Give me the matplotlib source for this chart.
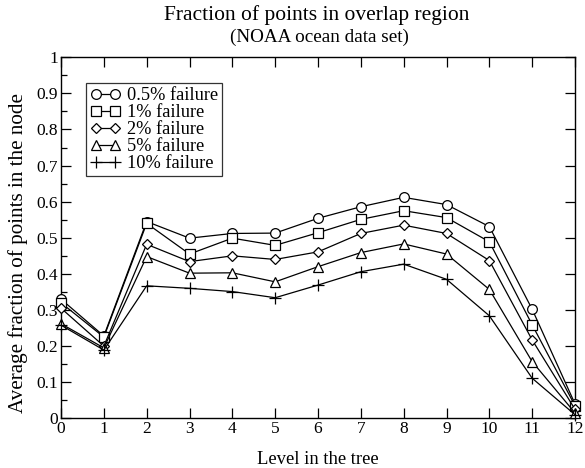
import matplotlib
matplotlib.use("Agg")
import matplotlib.pyplot as plt
from matplotlib.ticker import MultipleLocator

# tree levels and fraction of points per failure rate
levels = list(range(13))
frac_05 = [0.330, 0.228, 0.545, 0.499, 0.512, 0.513, 0.554, 0.586, 0.612, 0.592, 0.531, 0.302, 0.040]
frac_1 = [0.320, 0.225, 0.540, 0.455, 0.499, 0.479, 0.514, 0.551, 0.575, 0.556, 0.489, 0.259, 0.035]
frac_2 = [0.305, 0.200, 0.482, 0.434, 0.450, 0.440, 0.461, 0.512, 0.535, 0.512, 0.437, 0.217, 0.025]
frac_5 = [0.262, 0.195, 0.448, 0.402, 0.403, 0.378, 0.420, 0.459, 0.483, 0.455, 0.357, 0.157, 0.015]
frac_10 = [0.258, 0.189, 0.367, 0.360, 0.351, 0.334, 0.369, 0.406, 0.427, 0.385, 0.284, 0.111, 0.010]

series = [
    (frac_05, "o", 7, "0.5% failure"),
    (frac_1, "s", 7, "1% failure"),
    (frac_2, "D", 5.2, "2% failure"),
    (frac_5, "^", 7, "5% failure"),
    (frac_10, "+", 9, "10% failure"),
]

plt.rcParams["font.family"] = ["Liberation Serif", "DejaVu Serif"]

fig = plt.figure(figsize=(5.85, 4.68), dpi=100)
ax = fig.add_axes([0.1043, 0.1062, 0.8786, 0.7714])

for vals, mk, ms, lab in series:
    ax.plot(levels, vals, color="black", lw=0.9, marker=mk, markersize=ms,
            markerfacecolor="white", markeredgecolor="black", markeredgewidth=0.9,
            label=lab, clip_on=False, zorder=3)

ax.set_xlim(0, 12)
ax.set_ylim(0, 1)
ax.xaxis.set_major_locator(MultipleLocator(1))
ax.yaxis.set_major_locator(MultipleLocator(0.1))
ax.yaxis.set_minor_locator(MultipleLocator(0.05))
ax.yaxis.set_major_formatter(plt.FuncFormatter(lambda v, p: "%g" % round(v, 2)))

ax.tick_params(which="major", direction="in", length=7.5, width=0.9,
               top=True, right=True, labelsize=12.5, pad=2)
ax.tick_params(which="minor", direction="in", length=4, width=0.9,
               left=True, right=False)
for sp in ax.spines.values():
    sp.set_linewidth(1.0)

# axis labels placed like the original (not centred on the axes)
fig.text(318 / 585, 1 - 459 / 468, "Level in the tree",
         ha="center", va="center", fontsize=13.4)
fig.text(18 / 585, 1 - 253 / 468, "Average fraction of points in the node",
         ha="center", va="center", rotation=90, fontsize=15.2)

fig.text(317 / 585, 1 - 15 / 468, "Fraction of points in overlap region",
         ha="center", va="center", fontsize=15.5)
fig.text(319 / 585, 1 - 37 / 468, "(NOAA ocean data set)",
         ha="center", va="center", fontsize=13.8)

leg = ax.legend(loc="upper left", bbox_to_anchor=(0.0486, 0.929), numpoints=2,
                fontsize=13.2, frameon=True, fancybox=False, borderpad=0.22,
                labelspacing=0.0, handlelength=1.65, handletextpad=0.35,
                borderaxespad=0)
leg.get_frame().set_edgecolor("black")
leg.get_frame().set_linewidth(0.9)

fig.savefig("out.png", dpi=100)
